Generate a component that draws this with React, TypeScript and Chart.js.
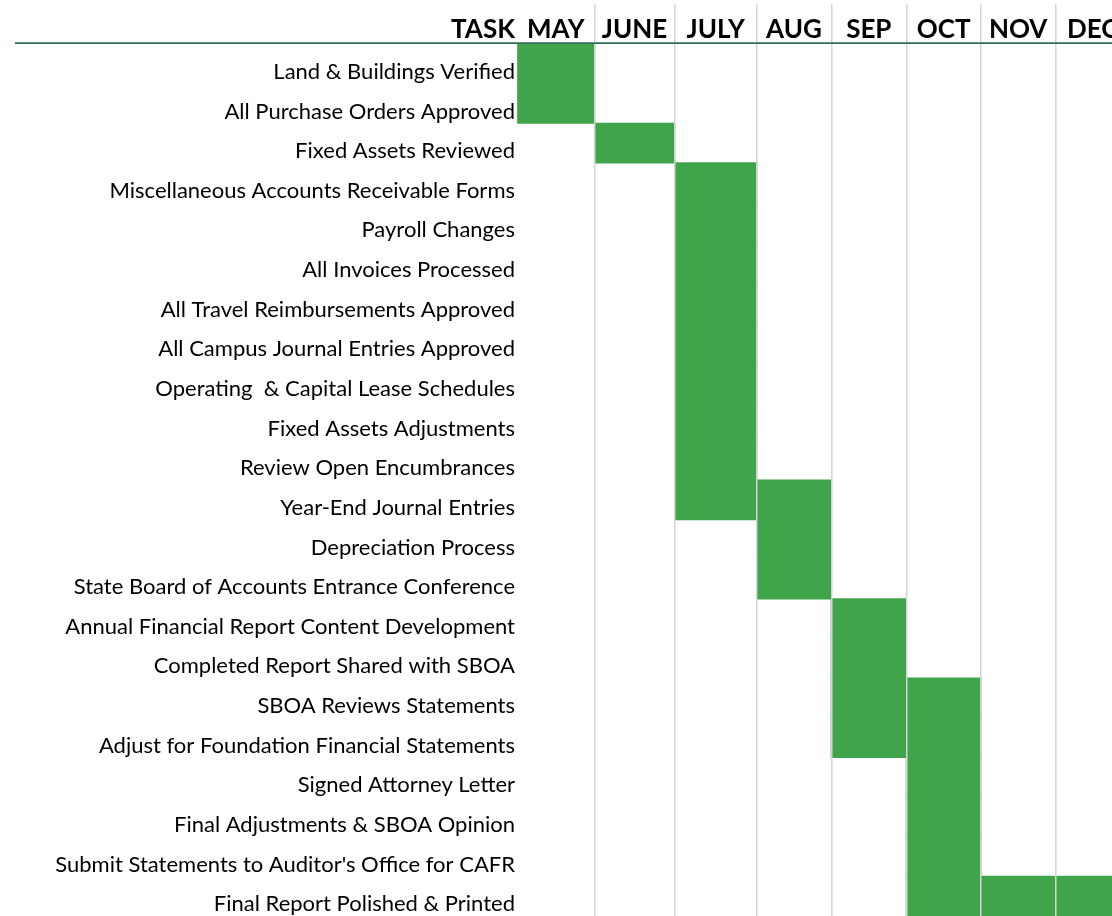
import React, { useEffect, useRef } from "react";
import { Chart, registerables, LinearScale } from "chart.js";

Chart.register(...registerables);

// ---------------- DATA ----------------
const months = ["MAY", "JUNE", "JULY", "AUG", "SEP", "OCT", "NOV", "DEC"];

const tasks = [
  "Land & Buildings Verified",
  "All Purchase Orders Approved",
  "Fixed Assets Reviewed",
  "Miscellaneous Accounts Receivable Forms",
  "Payroll Changes",
  "All Invoices Processed",
  "All Travel Reimbursements Approved",
  "All Campus Journal Entries Approved",
  "Operating  & Capital Lease Schedules",
  "Fixed Assets Adjustments",
  "Review Open Encumbrances",
  "Year-End Journal Entries",
  "Depreciation Process",
  "State Board of Accounts Entrance Conference",
  "Annual Financial Report Content Development",
  "Completed Report Shared with SBOA",
  "SBOA Reviews Statements",
  "Adjust for Foundation Financial Statements",
  "Signed Attorney Letter",
  "Final Adjustments & SBOA Opinion",
  "Submit Statements to Auditor's Office for CAFR",
  "Final Report Polished & Printed",
];

// first and last month (inclusive) of each task
const taskStartMonth = [
  "MAY", "MAY", "JUNE", "JULY", "JULY", "JULY", "JULY", "JULY", "JULY", "JULY", "JULY",
  "JULY", "AUG", "AUG", "SEP", "SEP", "SEP", "SEP", "OCT", "OCT", "OCT", "OCT",
];
const taskEndMonth = [
  "MAY", "MAY", "JUNE", "JULY", "JULY", "JULY", "JULY", "JULY", "JULY", "JULY", "JULY",
  "AUG", "AUG", "AUG", "SEP", "SEP", "OCT", "OCT", "OCT", "OCT", "OCT", "DEC",
];

const headerTitle = "TASK";

// ---------------- LAYOUT / STYLE ----------------
// relative widths of the month columns (spreadsheet columns are not equal)
const MONTH_COLUMN_WIDTHS = [77.5, 80, 82, 74.5, 75, 74.5, 74.5, 74.5];
const BAR_COLOR = "#40A44A";
const GRID_COLOR = "#d3d3d3";
const HEADER_LINE_COLOR = "#35695a";
const FONT_FAMILY = "Lato, 'Open Sans', sans-serif";

class MonthColumnScale extends LinearScale {
  static id = "monthColumns";
  static defaults = {};
  getPixelForValue(value: any) {
    if (value === null || value === undefined || isNaN(value)) return NaN;
    const w = MONTH_COLUMN_WIDTHS;
    const total = w.reduce((a, b) => a + b, 0);
    let i = Math.floor(value);
    if (i < 0) i = 0;
    if (i > w.length - 1) i = w.length - 1;
    let acc = 0;
    for (let k = 0; k < i; k++) acc += w[k];
    acc += (value - i) * w[i];
    return this.getPixelForDecimal(acc / total);
  }
  getValueForPixel(pixel: number) {
    const w = MONTH_COLUMN_WIDTHS;
    const total = w.reduce((a, b) => a + b, 0);
    let acc = this.getDecimalForPixel(pixel) * total;
    for (let k = 0; k < w.length; k++) {
      if (acc <= w[k] || k === w.length - 1) return k + acc / w[k];
      acc -= w[k];
    }
    return 0;
  }
}
Chart.register(MonthColumnScale as any);

const headerPlugin = {
  id: "ganttHeader",
  afterDraw(chart: any) {
    const ctx = chart.ctx;
    ctx.save();
    ctx.strokeStyle = HEADER_LINE_COLOR;
    ctx.lineWidth = 1.7;
    ctx.beginPath();
    ctx.moveTo(15, 43.2);
    ctx.lineTo(chart.width, 43.2);
    ctx.stroke();
    ctx.fillStyle = "#000";
    ctx.font = `bold 26px ${FONT_FAMILY}`;
    ctx.textAlign = "right";
    ctx.textBaseline = "middle";
    ctx.fillText(headerTitle, chart.chartArea.left - 2, 29.9);
    ctx.restore();
  },
};

export default function App() {
  const canvasRef = useRef<HTMLCanvasElement | null>(null);

  useEffect(() => {
    if (!canvasRef.current) return;
    const data = tasks.map((_, i) => [
      months.indexOf(taskStartMonth[i]),
      months.indexOf(taskEndMonth[i]) + 1,
    ]);
    const chart = new Chart(canvasRef.current, {
      type: "bar",
      data: {
        labels: tasks,
        datasets: [
          {
            data: data as any,
            backgroundColor: BAR_COLOR,
            borderWidth: 0,
            borderSkipped: false,
            barPercentage: 1,
            categoryPercentage: 1,
            inflateAmount: 0.6,
          } as any,
        ],
      },
      options: {
        indexAxis: "y",
        animation: false,
        responsive: true,
        maintainAspectRatio: false,
        events: [],
        layout: { padding: { left: 0, top: 4, right: 0, bottom: 0 } },
        plugins: {
          legend: { display: false },
          tooltip: { enabled: false },
        },
        scales: {
          x: {
            type: "monthColumns" as any,
            position: "top",
            min: 0,
            max: 8,
            border: { display: false },
            grid: {
              z: 1,
              drawTicks: true,
              tickLength: 40,
              lineWidth: 1.5,
              color: (ctx: any) =>
                ctx.tick && ctx.tick.value % 1 === 0 && ctx.tick.value > 0
                  ? GRID_COLOR
                  : "rgba(0,0,0,0)",
            },
            ticks: {
              stepSize: 0.5,
              autoSkip: false,
              maxRotation: 0,
              minRotation: 0,
              padding: -41.5,
              color: "#000",
              font: { family: FONT_FAMILY, size: 26, weight: "bold", lineHeight: 1.2 },
              callback: (value: any) => {
                const v = Number(value);
                return v % 1 === 0.5 ? months[Math.floor(v)] : "";
              },
            },
            afterFit: (scale: any) => {
              scale.height = 40;
              scale.paddingLeft = 0;
              scale.paddingRight = 0;
            },
          } as any,
          y: {
            type: "category",
            border: { display: false },
            grid: { display: false, drawTicks: false },
            ticks: {
              autoSkip: false,
              padding: 2,
              labelOffset: 8,
              color: "#000",
              font: { family: FONT_FAMILY, size: 22 },
            },
            afterFit: (scale: any) => {
              scale.width = 517;
              scale.paddingTop = 0;
              scale.paddingBottom = 0;
            },
          },
        },
      },
      plugins: [headerPlugin],
    });
    return () => chart.destroy();
  }, []);

  return (
    <div
      style={{
        position: "absolute",
        left: 0,
        top: 0,
        width: 1112,
        height: 916,
        overflow: "hidden",
        background: "#fff",
      }}
    >
      <div style={{ position: "relative", width: 1130, height: 916 }}>
        <canvas ref={canvasRef} />
      </div>
    </div>
  );
}
